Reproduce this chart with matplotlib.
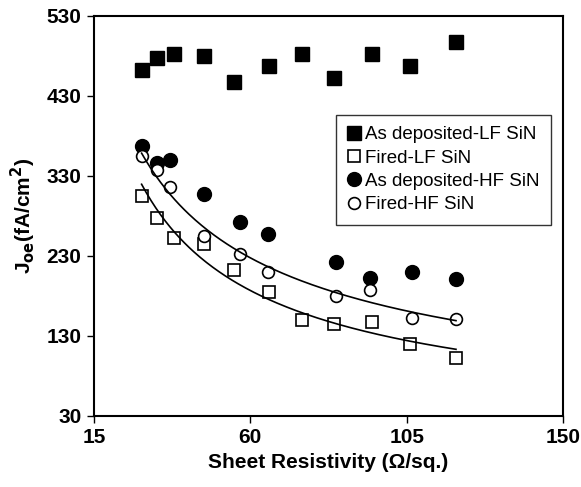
import numpy as np
import matplotlib
matplotlib.use('Agg')
import matplotlib.pyplot as plt

plt.rcParams['font.family'] = ['Liberation Sans', 'DejaVu Sans']

# Sheet resistivity (ohm/sq) and Joe (fA/cm2)
x_lf = [28.7, 33.0, 38.1, 46.7, 55.3, 65.3, 75.0, 84.2, 95.0, 106.0, 119.2]
jo_dep_lf = [462, 477, 482, 480, 447, 467, 482, 452, 482, 467, 497]
jo_fired_lf = [305, 277, 252, 245, 212, 185, 150, 145, 148, 120, 103]

x_hf = [28.7, 33.0, 36.9, 46.7, 57.1, 65.2, 84.6, 94.4, 106.5, 119.2]
jo_dep_hf = [368, 346, 350, 308, 273, 258, 223, 203, 210, 201]
jo_fired_hf = [355, 338, 316, 255, 233, 210, 180, 188, 153, 151]

x_ticks = [15, 60, 105, 150]
y_ticks = [30, 130, 230, 330, 430, 530]


def power_fit(x, y):
    # степенной тренд как в Excel: y = a * x^b
    b, ln_a = np.polyfit(np.log(x), np.log(y), 1)
    xs = np.linspace(min(x), max(x), 200)
    return xs, np.exp(ln_a) * xs ** b


fig = plt.figure(figsize=(5.81, 4.87), dpi=100)
ax = fig.add_axes([0.1618, 0.1458, 0.8072, 0.8214])

ms = 10
ax.plot(x_lf, jo_dep_lf, 's', color='black', ms=ms, label='As deposited-LF SiN')
ax.plot(x_lf, jo_fired_lf, 's', mfc='white', mec='black', mew=1.2, ms=ms - 1.2,
        label='Fired-LF SiN')
ax.plot(x_hf, jo_dep_hf, 'o', color='black', ms=ms, label='As deposited-HF SiN')
ax.plot(x_hf, jo_fired_hf, 'o', mfc='white', mec='black', mew=1.2, ms=ms - 1.5,
        label='Fired-HF SiN')

# линии тренда для отожжённых образцов
xs, ys = power_fit(x_lf, jo_fired_lf)
ax.plot(xs, ys, color='black', lw=1.2)
xs, ys = power_fit(x_hf, jo_fired_hf)
ax.plot(xs, ys, color='black', lw=1.2)

ax.set_xlim(15, 150)
ax.set_ylim(30, 530)
ax.set_xticks(x_ticks)
ax.set_yticks(y_ticks)
ax.tick_params(direction='out', length=5, width=1, labelsize=15, pad=4)
for lab in ax.get_xticklabels() + ax.get_yticklabels():
    lab.set_fontweight('bold')
for sp in ax.spines.values():
    sp.set_linewidth(1.5)

ax.set_xlabel('Sheet Resistivity (\u03a9/sq.)', fontsize=15, fontweight='bold', labelpad=4)
ax.set_ylabel(r'J$_{\mathbf{oe}}$(fA/cm$^{\mathbf{2}}$)', fontsize=15, fontweight='bold',
              labelpad=6)

leg = ax.legend(loc='upper right', bbox_to_anchor=(0.974, 0.7525), borderaxespad=0,
                fancybox=False, edgecolor='black', fontsize=13.5, markerscale=1,
                handlelength=0.75, handletextpad=0.2, labelspacing=0.33,
                borderpad=0.6)
leg.get_frame().set_linewidth(1.0)

fig.savefig('out.png', dpi=100)
